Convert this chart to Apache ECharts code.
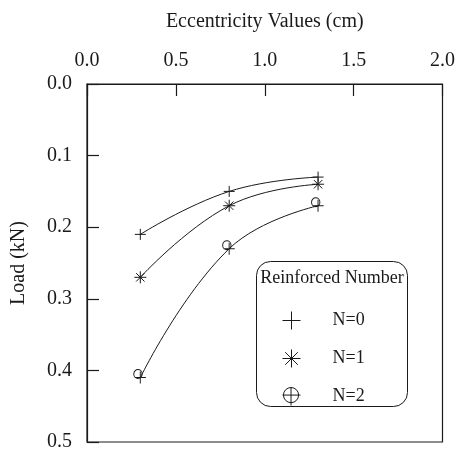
<!DOCTYPE html>
<html>
<head>
<meta charset="utf-8">
<style>
  html, body { margin: 0; padding: 0; background: #fff; }
  #chart { width: 458px; height: 452px; }
</style>
<script src="https://cdn.jsdelivr.net/npm/echarts@6/dist/echarts.min.js"></script>
</head>
<body>
<div id="chart"></div>
<script>
// Eccentricity (cm) tested for each reinforcement count
const eccentricity = [0.3, 0.8, 1.3];
// Load (kN) per reinforcement number
const loadN0 = [0.21, 0.15, 0.13];
const loadN1 = [0.27, 0.17, 0.14];
const loadN2 = [0.41, 0.23, 0.17];
const seriesNames = ['N=0', 'N=1', 'N=2'];
const xTicks = [0, 0.5, 1.0, 1.5, 2.0];
const yTicks = [0, 0.1, 0.2, 0.3, 0.4, 0.5];

const FONT = 'Liberation Serif';
const INK = '#1a1a1a';

// Marker outlines
const PLUS = 'path://M0,5 L10,5 M5,0 L5,10';
const STAR = 'path://M0,5 L10,5 M5,0 L5,10 M1.5,1.5 L8.5,8.5 M1.5,8.5 L8.5,1.5';
// small circle sitting up-left of a cross
const CIRCLE_CROSS = 'path://M0,4.5 A4.5,4.5 0 1,1 9,4.5 A4.5,4.5 0 1,1 0,4.5 Z M1,8 L13,8 M7,2 L7,14';
// centred circle with a cross whose stem runs a little longer below
const CIRCLE_CROSS_KEY = 'path://M1,8 A8,8 0 1,1 17,8 A8,8 0 1,1 1,8 Z M0,8 L19,8 M9,0 L9,19';

function pairs(ys) {
  return eccentricity.map((x, i) => [x, ys[i]]);
}

const markerStyle = { color: 'rgba(0,0,0,0)', borderColor: INK, borderWidth: 1 };

function makeSeries(name, ys, symbol, size, offset) {
  return {
    name: name,
    type: 'line',
    data: pairs(ys),
    smooth: 0.45,
    symbol: symbol,
    symbolSize: size,
    symbolOffset: offset || [0, 0],
    symbolKeepAspect: true,
    showAllSymbol: true,
    lineStyle: { color: INK, width: 1 },
    itemStyle: markerStyle,
    emphasis: { disabled: true },
    animation: false
  };
}

const chart = echarts.init(document.getElementById('chart'), null, { renderer: 'canvas' });

chart.setOption({
  backgroundColor: '#fff',
  animation: false,
  grid: {
    left: 87, right: 9, top: 84, bottom: 5,
    show: true, borderColor: INK, borderWidth: 1.2, backgroundColor: 'transparent'
  },
  xAxis: {
    type: 'value',
    position: 'top',
    min: xTicks[0], max: xTicks[xTicks.length - 1], interval: 0.5,
    name: 'Eccentricity Values (cm)',
    nameLocation: 'middle',
    nameGap: 52,
    nameTextStyle: { fontFamily: FONT, fontSize: 20, color: INK },
    axisLine: { show: true, lineStyle: { color: INK, width: 1.2 } },
    axisTick: { show: true, inside: true, length: 12, lineStyle: { color: INK, width: 1.2 } },
    axisLabel: {
      margin: 13, fontFamily: FONT, fontSize: 20, color: INK,
      formatter: v => v.toFixed(1)
    },
    splitLine: { show: false }
  },
  yAxis: {
    type: 'value',
    inverse: true,
    min: yTicks[0], max: yTicks[yTicks.length - 1], interval: 0.1,
    name: 'Load (kN)',
    nameLocation: 'middle',
    nameGap: 58,
    nameTextStyle: { fontFamily: FONT, fontSize: 20, color: INK },
    axisLine: { show: true, lineStyle: { color: INK, width: 1.2 } },
    axisTick: { show: true, inside: true, length: 12, lineStyle: { color: INK, width: 1.2 } },
    axisLabel: {
      margin: 15, fontFamily: FONT, fontSize: 20, color: INK,
      formatter: v => v.toFixed(1)
    },
    splitLine: { show: false }
  },
  legend: {
    orient: 'vertical',
    left: 282,
    top: 311,
    padding: 0,
    itemWidth: 18,
    itemHeight: 18,
    itemGap: 19,
    selectedMode: false,
    itemStyle: { color: 'rgba(0,0,0,0)', borderColor: INK, borderWidth: 1 },
    textStyle: { fontFamily: FONT, fontSize: 18, color: INK, padding: [0, 0, 0, 27] },
    data: [
      { name: seriesNames[0], icon: PLUS },
      { name: seriesNames[1], icon: STAR },
      { name: seriesNames[2], icon: CIRCLE_CROSS_KEY }
    ]
  },
  graphic: [
    {
      type: 'rect',
      left: 256, top: 261, z: 0,
      shape: { width: 151, height: 145, r: 14 },
      style: { fill: '#fff', stroke: INK, lineWidth: 1 }
    },
    {
      type: 'text',
      x: 332, y: 278, z: 1,
      style: {
        text: 'Reinforced Number', font: '18px "Liberation Serif"', fill: INK,
        textAlign: 'center', textVerticalAlign: 'middle'
      }
    }
  ],
  series: [
    makeSeries(seriesNames[0], loadN0, PLUS, 11),
    makeSeries(seriesNames[1], loadN1, STAR, 12),
    makeSeries(seriesNames[2], loadN2, CIRCLE_CROSS, [13, 14], [-0.5, -1])
  ]
});
</script>
</body>
</html>
